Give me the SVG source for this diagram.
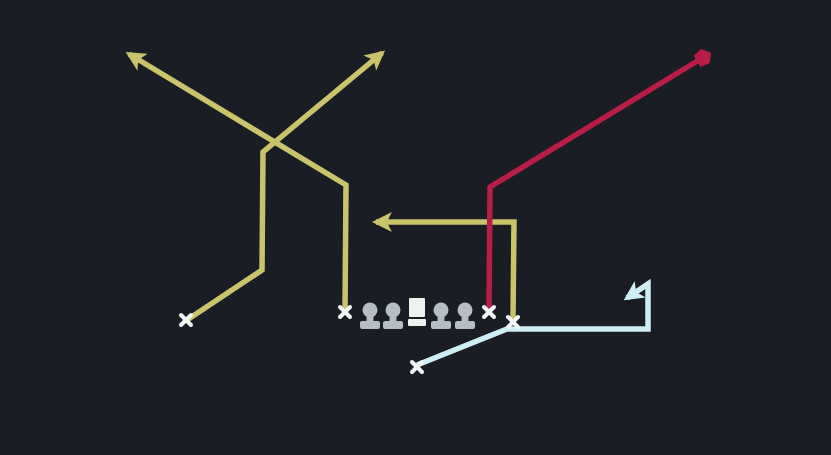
<svg xmlns="http://www.w3.org/2000/svg" width="831" height="455" viewBox="0 0 831 455">
<style>
.y{fill:none;stroke:#c9c46b;stroke-width:5.5;stroke-linejoin:miter}
.r{fill:none;stroke:#b71d46;stroke-width:5.5}
.b{fill:none;stroke:#cdeef4;stroke-width:5.5}
.x{stroke:#f4f7f7;stroke-width:4;stroke-linecap:round}
.lm{fill:#b7bec1}
.c{fill:#f0f2f1}
</style>
<defs>
<marker id="ay" viewBox="0 0 10 10" refX="8" refY="5" markerWidth="3.6" markerHeight="3.6" orient="auto" markerUnits="strokeWidth">
<path d="M0,0 L10,5 L0,10 L2.5,5 Z" fill="#c9c46b"/>
</marker>
<marker id="ab" viewBox="0 0 10 10" refX="8" refY="5" markerWidth="3.6" markerHeight="3.6" orient="auto" markerUnits="strokeWidth">
<path d="M0,0 L10,5 L0,10 L2.5,5 Z" fill="#cdeef4"/>
</marker>
<marker id="ar" viewBox="0 0 10 10" refX="5" refY="5" markerWidth="3" markerHeight="3" orient="auto" markerUnits="strokeWidth">
<path d="M0,1 L6,0 L10,5 L6,10 L0,9 Z" fill="#b71d46"/>
</marker>
</defs>
<rect width="831" height="455" fill="#1a1d23"/>
<g id="connectors">
<polyline class="y" points="187,320 262,270 263,152 382,53" marker-end="url(#ay)"/>
<polyline class="y" points="345,312 346,185 129,54" marker-end="url(#ay)"/>
<polyline class="y" points="513,320 514,222 376,222" marker-end="url(#ay)"/>
<polyline class="r" points="489,312 490,187 704,57" marker-end="url(#ar)"/>
<polyline class="b" points="417,365 507,329 648,329 648,284 627,298" marker-end="url(#ab)"/>
</g>
<g id="wr-left"><g class="x"><line x1="181" y1="315" x2="191" y2="325"/><line x1="191" y1="315" x2="181" y2="325"/></g></g>
<g id="te-left"><g class="x"><line x1="340" y1="307" x2="350" y2="317"/><line x1="350" y1="307" x2="340" y2="317"/></g></g>
<g id="te-right"><g class="x"><line x1="484" y1="307" x2="494" y2="317"/><line x1="494" y1="307" x2="484" y2="317"/></g></g>
<g id="wr-right"><g class="x"><line x1="508" y1="317" x2="518" y2="327"/><line x1="518" y1="317" x2="508" y2="327"/></g></g>
<g id="rb"><g class="x"><line x1="412" y1="362" x2="422" y2="372"/><line x1="422" y1="362" x2="412" y2="372"/></g></g>
<g id="lt" class="lm"><circle cx="370" cy="310" r="7.5"/><rect x="366.5" y="314" width="7" height="9"/><rect x="360" y="321" width="20" height="8" rx="2"/></g>
<g id="lg" class="lm"><circle cx="393" cy="310" r="7.5"/><rect x="389.5" y="314" width="7" height="9"/><rect x="383" y="321" width="20" height="8" rx="2"/></g>
<g id="center" class="c"><rect x="409" y="298" width="16" height="19" rx="1"/><rect x="408" y="319" width="18" height="7" rx="1"/></g>
<g id="rg" class="lm"><circle cx="441" cy="310" r="7.5"/><rect x="437.5" y="314" width="7" height="9"/><rect x="431" y="321" width="20" height="8" rx="2"/></g>
<g id="rt" class="lm"><circle cx="465" cy="310" r="7.5"/><rect x="461.5" y="314" width="7" height="9"/><rect x="455" y="321" width="20" height="8" rx="2"/></g>
</svg>
